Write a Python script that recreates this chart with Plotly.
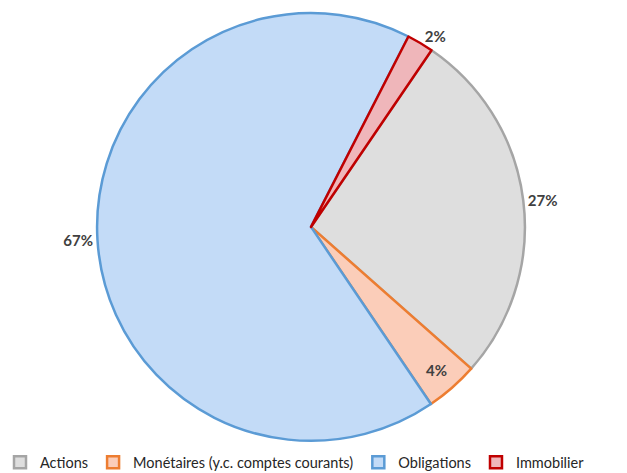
import plotly.graph_objects as go

categories = ["Actions", "Monétaires (y.c. comptes courants)", "Obligations", "Immobilier"]
values = [27, 4, 67, 2]
fill_colors = ["#dedede", "#fbcdb9", "#c3dbf7", "#efb6ba"]
line_colors = ["#a5a5a5", "#ed7d31", "#5b9bd5", "#c00000"]
text_positions = ["outside", "inside", "outside", "outside"]

label_font = dict(family="Lato", size=15, color="#404040", weight="bold")

fig = go.Figure(go.Pie(
    labels=categories,
    values=values,
    sort=False,
    direction="clockwise",
    rotation=34.3,
    marker=dict(colors=fill_colors, line=dict(color=line_colors, width=2.5)),
    texttemplate="%{percent:.0%}",
    textposition=text_positions,
    insidetextorientation="horizontal",
    textfont=label_font,
    outsidetextfont=label_font,
    insidetextfont=label_font,
    domain=dict(x=[0, 0.992], y=[0.068, 0.9725]),
    hole=0,
))

fig.update_layout(
    width=627, height=473,
    margin=dict(l=0, r=0, t=0, b=0, autoexpand=False),
    paper_bgcolor="white",
    plot_bgcolor="white",
    showlegend=True,
    legend=dict(orientation="h", x=0.0, xanchor="left", y=-0.011, yanchor="bottom",
                font=dict(family="Lato", size=14.5, color="#262626"),
                traceorder="normal", bgcolor="rgba(0,0,0,0)"),
)

fig.write_html("out.html",
               config={"displayModeBar": False},
               post_script="document.body.style.margin='0';document.body.style.overflow='hidden';")
